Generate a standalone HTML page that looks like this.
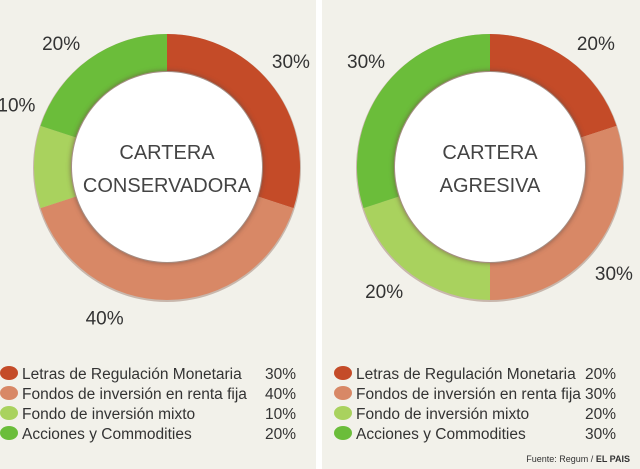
<!DOCTYPE html>
<html><head><meta charset="utf-8"><style>
body{margin:0;width:640px;height:469px;overflow:hidden;background:#f2f1ea;font-family:"Liberation Sans",sans-serif;}
svg{display:block}
</style></head><body>
<svg id="chart" width="640" height="469" viewBox="0 0 640 469" xmlns="http://www.w3.org/2000/svg">
<defs><filter id="sh" x="-20%" y="-20%" width="140%" height="140%"><feGaussianBlur stdDeviation="2"/></filter></defs>
<rect x="0" y="0" width="640" height="469" fill="#f2f1ea"/>
<rect x="316" y="0" width="6" height="469" fill="#ffffff"/>
<g id="g"></g>
<text x="630" y="462" text-anchor="end" font-size="9" fill="#333">Fuente: Regum / <tspan font-weight="bold">EL PAIS</tspan></text>
</svg>
<script>
const categories=["Letras de Regulación Monetaria","Fondos de inversión en renta fija","Fondo de inversión mixto","Acciones y Commodities"];
const colors=["#c44b28","#d88866","#a9d25e","#6bbd3a"];
const conservadora=[30,40,10,20];
const agresiva=[20,30,20,30];
const titles=[["CARTERA","CONSERVADORA"],["CARTERA","AGRESIVA"]];
const NS="http://www.w3.org/2000/svg";
const g=document.getElementById('g');
function mk(t,a,p){const e=document.createElementNS(NS,t);for(const k in a)e.setAttribute(k,a[k]);(p||g).appendChild(e);return e;}
function pt(cx,cy,r,f){const a=f*2*Math.PI;return [cx+r*Math.sin(a),cy-r*Math.cos(a)];}
function donut(vals,cx,cy,title,legX,valX,name){
  const R=133,r=96,tot=vals.reduce((a,b)=>a+b,0);let acc=0;
  const grp=mk('g',{});
  
  
  mk('circle',{cx:cx,cy:cy+1,r:R+1,fill:'#7a4a3a',opacity:0.35},grp);
  vals.forEach((v,i)=>{
    const f0=acc/tot,f1=(acc+v)/tot;acc+=v;
    const [x0,y0]=pt(cx,cy,R,f0),[x1,y1]=pt(cx,cy,R,f1),[x2,y2]=pt(cx,cy,r,f1),[x3,y3]=pt(cx,cy,r,f0);
    const lg=(f1-f0)>0.5?1:0;
    const p=mk('path',{d:`M${x0},${y0}A${R},${R} 0 ${lg} 1 ${x1},${y1}L${x2},${y2}A${r},${r} 0 ${lg} 0 ${x3},${y3}Z`,fill:colors[i]},grp);
    
    
    let m=(f0+f1)/2;
    const diag=(Math.floor(m*4)+0.5)/4;
    m=0.5*m+0.5*diag;
    const [lx,ly]=pt(cx,cy,R+30,m);
    const t=mk('text',{x:lx,y:ly+7,'text-anchor':'middle','font-size':19,fill:'#333'},grp);
    
    
    t.textContent=v+'%';
    const ly2=373+i*20;
    const d=mk('ellipse',{cx:legX+9,cy:ly2,rx:9,ry:7,fill:colors[i]},grp);
    
    
    const lt=mk('text',{x:legX+22,y:ly2+6,'font-size':15.5,fill:'#333'},grp);
    
    
    lt.textContent=categories[i];
    const vt=mk('text',{x:valX,y:ly2+6,'text-anchor':'end','font-size':15.5,fill:'#333'},grp);
    
    
    vt.textContent=v+'%';
  });
  mk('circle',{cx:cx,cy:cy,r:r+1,fill:'#6a4a40',opacity:0.5,filter:'url(#sh)'},grp);
  mk('circle',{cx:cx,cy:cy,r:r-1,fill:'#ffffff'},grp);
  title.forEach((s,j)=>{const t=mk('text',{x:cx,y:cy-8+j*33,'text-anchor':'middle','font-size':20,fill:'#444'},grp);
    
    
    t.textContent=s;});
}
donut(conservadora,167,167,titles[0],0,296,'donut-conservadora');
donut(agresiva,490,167,titles[1],334,616,'donut-agresiva');
</script>
</body></html>
